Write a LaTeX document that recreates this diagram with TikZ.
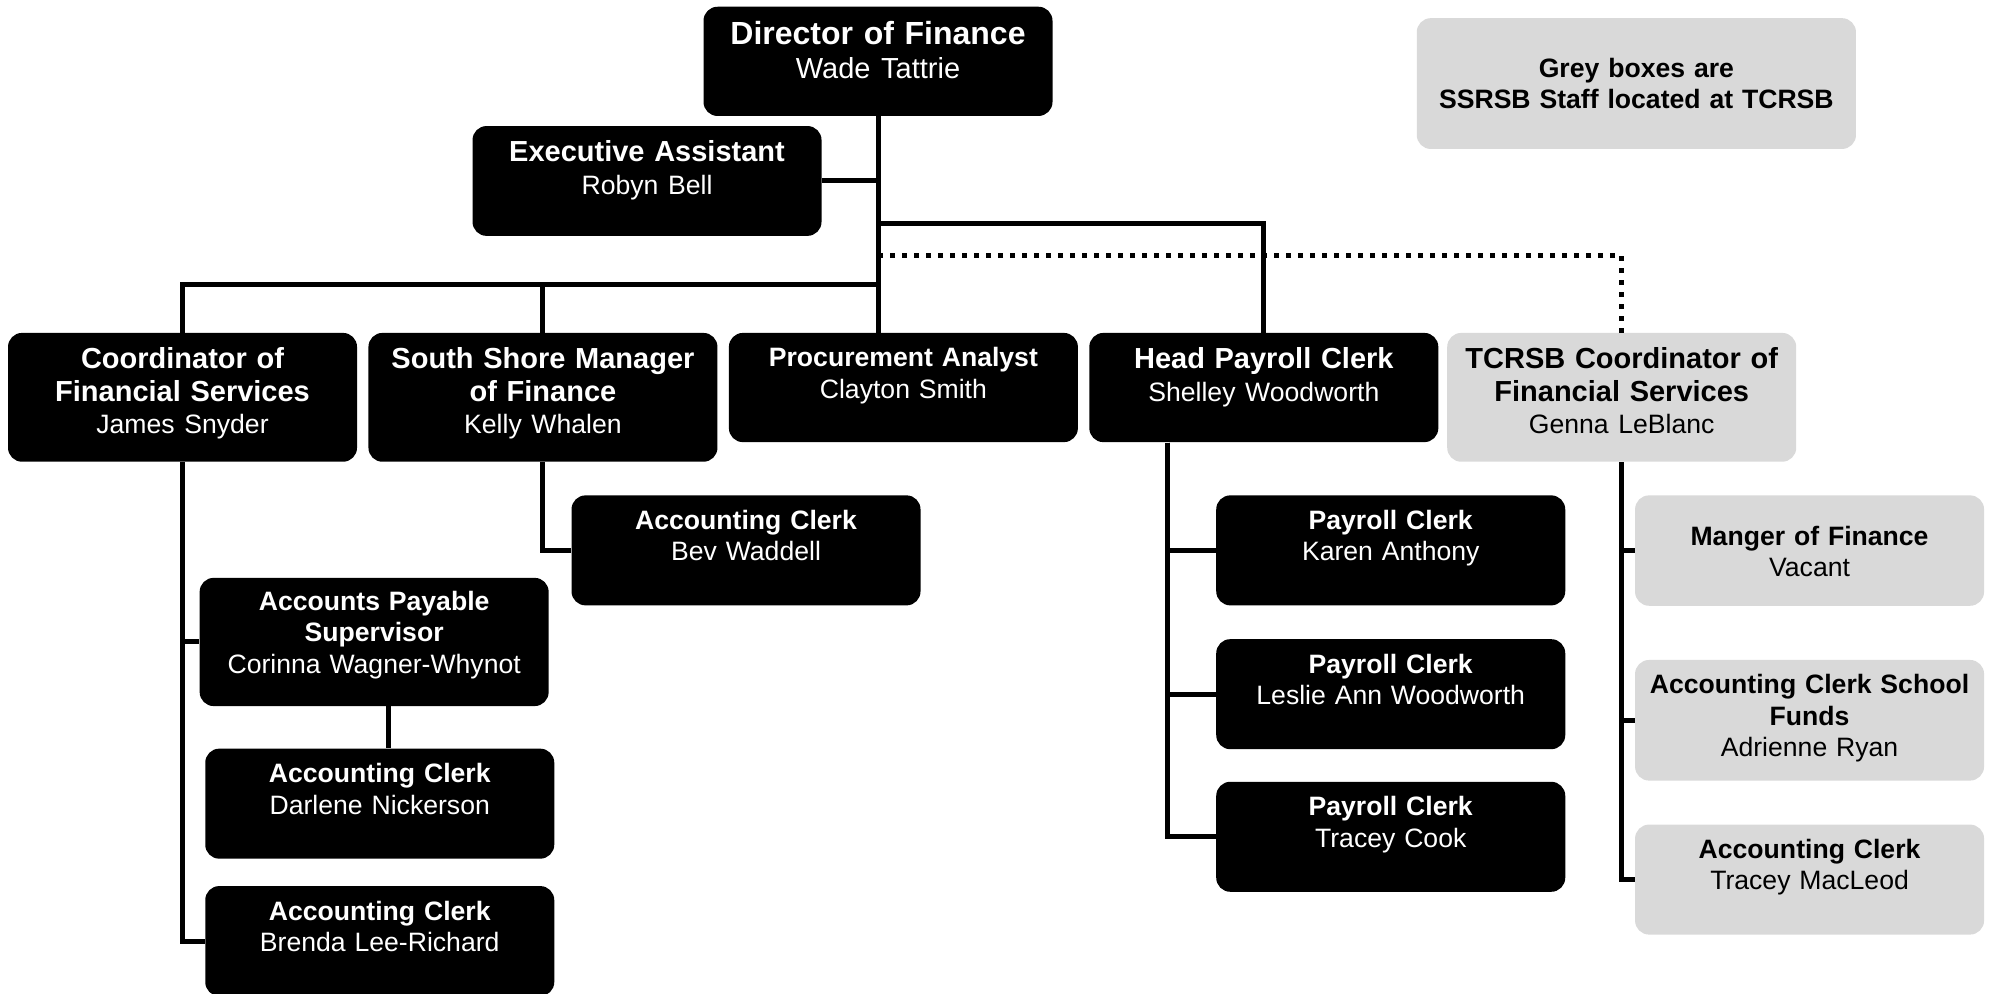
\documentclass[tikz,border=0pt]{standalone}
\usepackage{fontspec}
\setmainfont{Liberation Sans}
\usetikzlibrary{positioning}
\definecolor{boxgrey}{RGB}{217,217,217}
\newcommand{\who}[1]{{\fontsize{13.3pt}{15.7pt}\selectfont #1}}

\begin{document}
\begin{tikzpicture}[x=0.63455pt, y=-0.63455pt,
    orgbox/.style={fill=black, text=white, rounded corners=7pt, inner sep=0pt,
        text width=174.5pt, align=center, anchor=north west},
    greybox/.style={orgbox, fill=boxgrey, text=black},
    lvlone/.style={font=\fontsize{14.5pt}{16.3pt}\selectfont, text height=17.9pt, text depth=37pt},
    lvltwo/.style={font=\fontsize{13.3pt}{15.7pt}\selectfont, text height=17pt, text depth=38pt},
    tall/.style={text depth=46.5pt},
    link/.style={line width=2.5pt},
    dotlink/.style={line width=2.5pt, dash pattern=on 2.5pt off 3.5pt}]
    \useasboundingbox (0,0) rectangle (1568,783);

    % Define the boxes
    \node[orgbox, text height=19pt, text depth=35.6pt, font=\fontsize{16pt}{17.1pt}\selectfont] (dir) at (554,5) {\textbf{Director of Finance}\\{\fontsize{14.5pt}{17.1pt}\selectfont Wade Tattrie}};
    \node[orgbox, lvlone] (exec) at (372,99) {\textbf{Executive Assistant}\\\who{Robyn Bell}};
    \node[orgbox, lvlone, tall] (coord) at (6,262) {\textbf{Coordinator of\\Financial Services}\\\who{James Snyder}};
    \node[orgbox, lvlone, tall] (ssm) at (290,262) {\textbf{South Shore Manager\\of Finance}\\\who{Kelly Whalen}};
    \node[orgbox, lvltwo, text depth=37.6pt] (proc) at (574,262) {\textbf{Procurement Analyst}\\Clayton Smith};
    \node[orgbox, lvlone, text depth=36.7pt] (hpc) at (858,262) {\textbf{Head Payroll Clerk}\\\who{Shelley Woodworth}};
    \node[greybox, lvlone, tall] (tcrsb) at (1140,262) {\textbf{TCRSB Coordinator of\\Financial Services}\\\who{Genna LeBlanc}};
    \node[greybox, lvltwo, text width=219.6pt, text height=29.5pt, text depth=35.9pt] (legend) at (1116,14) {\textbf{Grey boxes are\\SSRSB Staff located at TCRSB}};

    \node[orgbox, lvltwo] (bev) at (450,390) {\textbf{Accounting Clerk}\\Bev Waddell};
    \node[orgbox, lvltwo, text height=16.2pt, text depth=47.9pt] (aps) at (157,455) {\textbf{Accounts Payable\\Supervisor}\\Corinna Wagner-Whynot};
    \node[orgbox, lvltwo, below=20.9pt of aps, xshift=2.8pt] (darl) {\textbf{Accounting Clerk}\\Darlene Nickerson};
    \node[orgbox, lvltwo, below=13.3pt of darl] (bren) {\textbf{Accounting Clerk}\\Brenda Lee-Richard};

    \node[orgbox, lvltwo] (pc1) at (958,390) {\textbf{Payroll Clerk}\\Karen Anthony};
    \node[orgbox, lvltwo, below=16.5pt of pc1] (pc2) {\textbf{Payroll Clerk}\\Leslie Ann Woodworth};
    \node[orgbox, lvltwo, below=15.9pt of pc2] (pc3) {\textbf{Payroll Clerk}\\Tracey Cook};

    \node[greybox, lvltwo, text height=25.1pt, text depth=30.1pt] (mof) at (1288,390) {\textbf{Manger of Finance}\\Vacant};
    \node[greybox, lvltwo, text depth=43.3pt, below=26.7pt of mof] (acsf) {\textbf{Accounting Clerk School\\Funds}\\Adrienne Ryan};
    \node[greybox, lvltwo, below=21.6pt of acsf] (mac) {\textbf{Accounting Clerk}\\Tracey MacLeod};

    % Bus levels under the director
    \coordinate (payrollbus) at (691,176);
    \coordinate (tcbus) at (691,201);
    \coordinate (mainbus) at (691,224);

    % Draw lines between the boxes
    \draw[link] (dir.south) -- (dir.south |- proc.north);
    \draw[link] (exec.east) -- (exec.east -| dir.south);
    \draw[link] (hpc.north) |- (payrollbus);
    \draw[dotlink] (tcrsb.north) |- (tcbus);
    \draw[link] (coord.north) |- (mainbus);
    \draw[link] (ssm.north) -- (ssm.north |- mainbus);

    \draw[link] (coord.south) |- (aps.west);
    \draw[link] (coord.south) |- (bren.west);
    \draw[link] ([xshift=7pt]aps.south) -- ([xshift=7pt]aps.south |- darl.north);
    \draw[link] (ssm.south) |- (bev.west);
    \foreach \n in {pc1,pc2,pc3}
        \draw[link] ([xshift=39.3pt]hpc.south west) |- (\n.west);
    \foreach \n in {mof,acsf,mac}
        \draw[link] (tcrsb.south) |- (\n.west);
\end{tikzpicture}
\end{document}
